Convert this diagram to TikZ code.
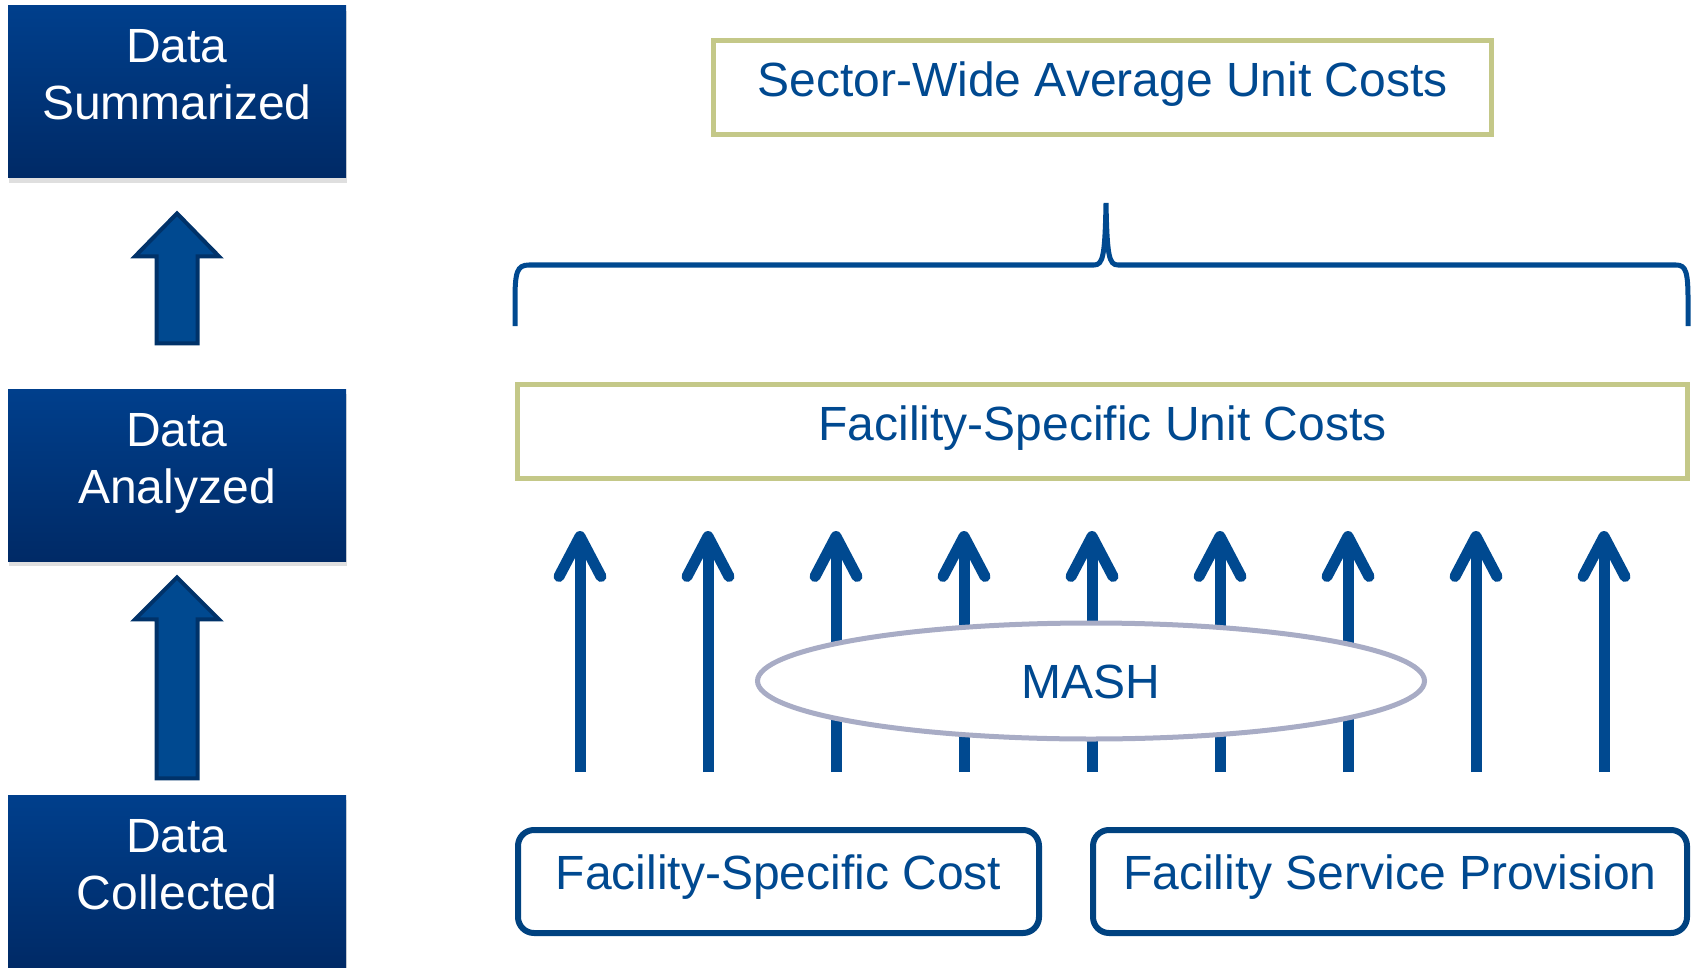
\documentclass[tikz,border=0pt]{standalone}
\usepackage{fontspec}
\setmainfont{Liberation Sans}
\usepackage{tikz}
\usepackage{xcolor}
\usetikzlibrary{arrows.meta,calc,shapes.geometric,shadows}
\definecolor{boxtop}{RGB}{0,63,140}
\definecolor{boxbot}{RGB}{0,42,102}
\definecolor{costblue}{RGB}{0,73,144}
\definecolor{arrowrim}{RGB}{0,50,105}
\definecolor{costgreen}{RGB}{196,200,136}
\definecolor{mashgray}{RGB}{168,172,197}
\definecolor{inputblue}{RGB}{0,66,128}
\tikzset{
    big-text/.style = {font=\fontsize{24pt}{28.5pt}\selectfont},
    stage-box/.style = {big-text, rectangle, draw=none, top color=boxtop, bottom color=boxbot, text=white, align=center,
        minimum width=169pt, minimum height=86pt, text height=46pt, text depth=18pt,
        drop shadow={opacity=0.25, shadow xshift=0.5pt, shadow yshift=-2.5pt}},
    stage-arrow/.style = {fill=costblue, draw=arrowrim, line width=2pt, line join=miter},
    cost-box/.style = {big-text, rectangle, draw=costgreen, line width=2.5pt, fill=white, text=costblue, text height=14pt, text depth=5.3pt},
    input-box/.style = {big-text, rectangle, rounded corners=8pt, draw=inputblue, line width=3pt, text=costblue,
        minimum height=51.5pt, text height=14pt, text depth=5.8pt},
    flow-arrow/.style = {draw=costblue, line width=5.5pt, -{Straight Barb[length=20pt, width=21pt, round]}},
    mash-ellipse/.style = {big-text, ellipse, draw=mashgray, line width=2.5pt, fill=white, text=costblue,
        minimum width=333.5pt, minimum height=58pt, text height=17.2pt, text depth=0pt},
    brace-line/.style = {draw=costblue, line width=2.5pt},
}

\begin{document}
\begin{tikzpicture}[x=0.5pt, y=-0.5pt]
\useasboundingbox (0,0) rectangle (1696,968);

% stages on the left
\node[stage-box] (summ) at (177,92) {Data\\Summarized};
\node[stage-box] (anal) at (177,475) {Data\\Analyzed};
\node[stage-box] (coll) at (177,881) {Data\\Collected};

\draw[stage-arrow] ($(summ.south)+(0,35)$) -- ++(42,43) -- ++(-21.5,0) -- ++(0,87) -- ++(-41,0) -- ++(0,-87) -- ++(-21.5,0) -- cycle;
\draw[stage-arrow] ($(anal.south)+(0,16)$) -- ++(42,42) -- ++(-21.5,0) -- ++(0,159) -- ++(-41,0) -- ++(0,-159) -- ++(-21.5,0) -- cycle;

% inputs and flows
\node[input-box, minimum width=260.5pt] (fsc) at (778.5,881.5) {Facility-Specific Cost};
\node[input-box, minimum width=297pt] (fsp) at (1390,881.5) {Facility Service Provision};

\foreach \i in {0,...,8}{
    \coordinate (from-\i) at (580+128*\i,772);
    \coordinate (to-\i) at (580+128*\i,531);
    \draw[flow-arrow] (from-\i) -- (to-\i);
}

\node[mash-ellipse] (mash) at (1091,681) {MASH};

% unit costs
\node[cost-box, minimum width=585pt, minimum height=47pt] (fsuc) at (1102.5,431.5) {Facility-Specific Unit Costs};
\node[cost-box, minimum width=389pt, minimum height=47pt] (swuc) at (1102.5,87.5) {Sector-Wide Average Unit Costs};

\draw[brace-line] (515,326) -- (515,300) .. controls (515,272) and (517,265) .. (529,265) -- (1094,265)
    .. controls (1103,265) and (1105,256) .. (1106,203) .. controls (1107,256) and (1109,265) .. (1118,265)
    -- (1676,265) .. controls (1686,265) and (1688,272) .. (1688,300) -- (1688,326);
\end{tikzpicture}
\end{document}
